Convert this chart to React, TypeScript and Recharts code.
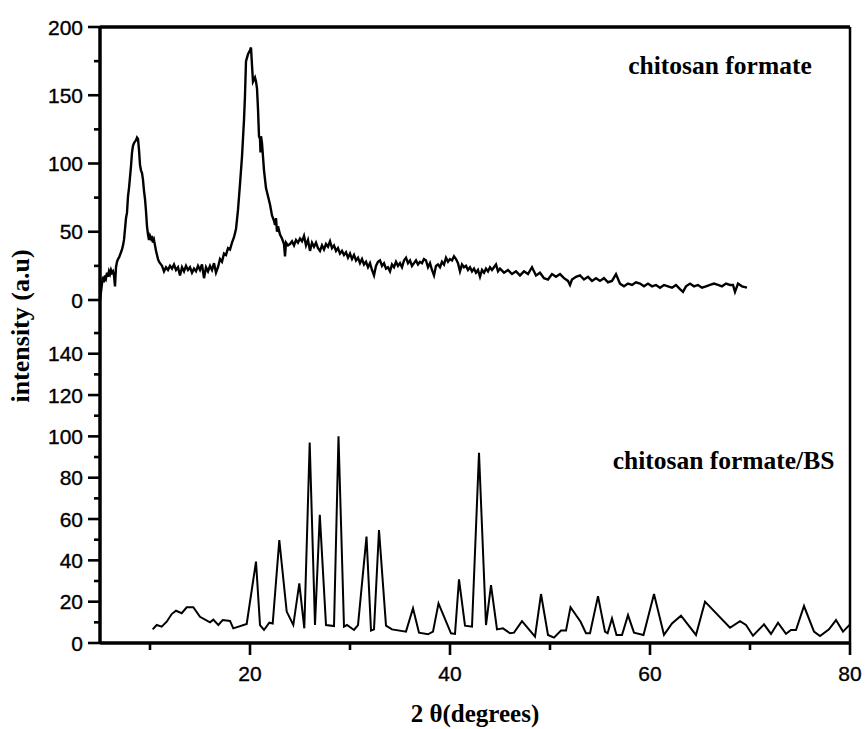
import React from 'react';
import { LineChart, Line, XAxis, YAxis, ReferenceLine, ReferenceDot, Label } from 'recharts';

// 2 theta (degrees) and intensity
const formateX = [
  5.0, 5.1, 5.2, 5.3, 5.4, 5.5, 5.6, 5.7, 5.8, 5.9, 6.0, 6.1, 6.2, 6.3, 6.4, 6.5, 6.6, 6.7, 6.8, 6.9,
  7.0, 7.1, 7.2, 7.3, 7.4, 7.5, 7.6, 7.7, 7.8, 7.9, 8.0, 8.1, 8.2, 8.3, 8.4, 8.5, 8.6, 8.7, 8.8, 8.9,
  9.0, 9.1, 9.2, 9.3, 9.4, 9.5, 9.6, 9.7, 9.8, 9.9, 10.0, 10.1, 10.2, 10.3, 10.4, 10.5, 10.6, 10.7, 10.8, 10.9,
  11.0, 11.2, 11.4, 11.6, 11.8, 12.0, 12.2, 12.4, 12.6, 12.8, 13.0, 13.2, 13.4, 13.6, 13.8, 14.0, 14.2, 14.4, 14.6, 14.8,
  15.0, 15.2, 15.4, 15.6, 15.8, 16.0, 16.2, 16.4, 16.6, 16.8, 17.0, 17.2, 17.4, 17.6, 17.8, 18.0, 18.2, 18.4, 18.6, 18.8,
  19.0, 19.2, 19.4, 19.5, 19.6, 19.8, 20.0, 20.1, 20.2, 20.3, 20.5, 20.6, 20.7, 20.8, 20.9, 21.0, 21.05, 21.1, 21.2, 21.4,
  21.6, 21.8, 22.0, 22.2, 22.4, 22.5, 22.6, 22.7, 22.8, 23.0, 23.2, 23.4, 23.5, 23.6, 23.8, 24.0, 24.2, 24.4, 24.6, 24.8,
  25.0, 25.2, 25.4, 25.6, 25.8, 26.0, 26.2, 26.4, 26.6, 26.8, 27.0, 27.2, 27.4, 27.6, 27.8, 28.0, 28.2, 28.4, 28.6, 28.8,
  29.0, 29.2, 29.4, 29.6, 29.8, 30.0, 30.2, 30.4, 30.6, 30.8, 31.0, 31.2, 31.4, 31.6, 31.8, 32.0, 32.2, 32.4, 32.6, 32.8,
  33.0, 33.2, 33.4, 33.6, 33.8, 34.0, 34.2, 34.4, 34.6, 34.8, 35.0, 35.2, 35.4, 35.6, 35.8, 36.0, 36.2, 36.4, 36.6, 36.8,
  37.0, 37.2, 37.4, 37.6, 37.8, 38.0, 38.2, 38.4, 38.6, 38.8, 39.0, 39.2, 39.4, 39.6, 39.8, 40.0, 40.2, 40.4, 40.6, 40.8,
  41.0, 41.2, 41.4, 41.6, 41.8, 42.0, 42.2, 42.4, 42.6, 42.8, 43.0, 43.2, 43.4, 43.6, 43.8, 44.0, 44.2, 44.6, 44.8, 45.0,
  45.4, 45.8, 46.2, 46.6, 47.0, 47.4, 47.8, 48.2, 48.6, 49.0, 49.4, 49.8, 50.2, 50.6, 51.0, 51.4, 51.8, 52.0, 52.2, 52.6,
  53.0, 53.4, 53.8, 54.2, 54.6, 55.0, 55.4, 55.8, 56.2, 56.6, 57.0, 57.4, 57.8, 58.2, 58.6, 59.0, 59.4, 59.8, 60.2, 60.6,
  61.0, 61.4, 61.8, 62.2, 62.6, 63.0, 63.3, 63.6, 64.0, 64.4, 64.8, 65.2, 65.6, 66.0, 66.4, 66.8, 67.2, 67.6, 68.0, 68.3,
  68.5, 68.8, 69.2, 69.7,
];
const formateY = [
  0, 6, 12, 17, 13, 18, 16, 20, 17, 21, 19, 22, 20, 21, 18, 10, 24, 28, 30, 31,
  33, 35, 37, 40, 44, 52, 60, 64, 76, 82, 90, 98, 108, 113, 115, 116, 117, 119, 118, 110,
  99, 95, 93, 88, 80, 74, 65, 54, 48, 44, 47, 45, 47, 42, 44, 40, 36, 33, 30, 28,
  27, 25, 21, 24, 22, 25, 23, 26, 22, 24, 18, 24, 21, 25, 22, 24, 20, 23, 21, 25,
  22, 26, 16, 24, 21, 25, 22, 27, 20, 24, 30, 28, 34, 33, 38, 37, 42, 46, 52, 66,
  85, 105, 132, 150, 175, 180, 183, 185, 172, 160, 163, 160, 155, 140, 120, 118, 108, 120, 115, 95,
  82, 76, 70, 62, 58, 55, 60, 50, 54, 48, 45, 41, 32, 42, 40, 41, 43, 40, 44, 42,
  45, 43, 47, 40, 44, 36, 42, 39, 42, 38, 36, 40, 37, 41, 39, 43, 38, 40, 36, 38,
  34, 36, 33, 35, 31, 34, 30, 33, 29, 31, 27, 30, 26, 28, 24, 27, 22, 18, 25, 28,
  29, 25, 27, 23, 24, 21, 26, 24, 28, 25, 27, 24, 29, 31, 27, 29, 25, 27, 29, 26,
  28, 27, 30, 29, 24, 27, 22, 18, 25, 26, 24, 28, 26, 31, 28, 30, 29, 32, 30, 27,
  21, 26, 24, 25, 22, 24, 21, 23, 20, 22, 17, 22, 20, 23, 21, 24, 22, 26, 21, 23,
  20, 22, 19, 21, 18, 21, 19, 24, 18, 20, 16, 15, 19, 17, 19, 16, 14, 11, 15, 17,
  18, 15, 17, 14, 16, 14, 16, 13, 14, 19, 12, 10, 12, 11, 13, 12, 10, 12, 10, 11,
  9, 11, 10, 9, 11, 8, 6, 10, 12, 10, 11, 9, 10, 11, 12, 11, 10, 12, 11, 11,
  6, 12, 10, 9,
];

const blendX = [
  10.27, 10.67, 11.17, 11.67, 12.17, 12.6, 13.17, 13.67, 14.33, 15.0, 16.0, 16.33, 16.83, 17.27, 18.0, 18.33, 19.67, 20.6, 21.0, 21.4,
  21.93, 22.27, 22.93, 23.67, 24.33, 24.93, 25.43, 25.97, 26.5, 26.98, 27.6, 28.4, 28.85, 29.4, 29.7, 30.4, 30.8, 31.65, 32.1, 32.4,
  32.9, 33.6, 34.2, 35.6, 36.3, 36.9, 37.8, 38.3, 38.85, 40.1, 40.5, 40.9, 41.5, 42.2, 42.9, 43.6, 44.1, 44.7, 45.3, 46.0,
  46.4, 47.2, 48.5, 49.1, 49.8, 50.4, 51.1, 51.6, 52.05, 53.06, 53.6, 54.0, 54.8, 55.5, 55.76, 56.2, 56.65, 57.2, 57.8, 58.4,
  59.35, 60.4, 61.4, 62.2, 63.1, 64.6, 65.5, 68.0, 69.0, 69.6, 70.3, 71.4, 72.1, 72.8, 73.6, 74.1, 74.6, 75.4, 76.4, 77.0,
  77.9, 78.6, 79.3, 80.0,
];
const blendY = [
  6.6, 8.7, 7.9, 10.3, 14, 15.6, 14.4, 17.3, 17.3, 12.7, 10, 11.3, 8.7, 11.1, 10.7, 7.1, 9.2, 39.4, 8.7, 6.3,
  9.8, 9.4, 49.8, 15.2, 8.7, 28.9, 7.1, 97, 8.7, 62, 8.7, 8.2, 100, 7.9, 8.7, 6.3, 8.7, 51.5, 6, 6.6,
  54.7, 8.4, 6.6, 5.5, 16.8, 5, 4.2, 5.5, 19.2, 4.7, 4.4, 30.8, 8.4, 7.9, 92, 8.7, 28, 6.6, 7.1, 4.7,
  5, 10.6, 3.1, 23.7, 3.9, 2.6, 6, 6, 17.3, 10.3, 4.7, 4.7, 22.7, 5.5, 4.7, 11.9, 3.9, 3.9, 13.5, 5,
  3.9, 23.7, 3.9, 9.5, 13.2, 3.9, 20, 7.4, 10.6, 8.7, 3.5, 9, 4.4, 9.8, 4.4, 6.3, 6.3, 17.9, 5.5, 3.4,
  6.6, 11.1, 5.5, 9,
];

const xTicks = [10, 20, 30, 40, 50, 60, 70, 80];
const topTicks = [0, 25, 50, 75, 100, 125, 150, 175, 200];
const bottomTicks = [0, 10, 20, 30, 40, 50, 60, 70, 80, 90, 100, 110, 120, 130, 140, 150];

const topData = formateX.map((x, i) => ({ x, y: formateY[i] }));
const bottomData = blendX.map((x, i) => ({ x, y: blendY[i] }));

// scanned figure: slightly heavy Arial-like tick numbers
const tickFont = {
  fontFamily: '"Liberation Sans", Arial, sans-serif',
  fontSize: 21,
  fill: '#000',
  stroke: '#000',
  strokeWidth: 0.35,
};
const serifBold = '"Liberation Serif", "Times New Roman", serif';

function YTick(props: any) {
  const { x, y, payload, step } = props;
  const major = payload.value % step === 0;
  return (
    <g>
      <line x1={x - (major ? 12 : 6)} x2={x} y1={y} y2={y} stroke="#000" strokeWidth={2.6} />
      {major && (
        <text x={x - 17} y={y} dy="0.36em" textAnchor="end" {...tickFont}>
          {payload.value}
        </text>
      )}
    </g>
  );
}

function XTick(props: any) {
  const { x, y, payload } = props;
  const major = payload.value % 20 === 0;
  return (
    <g>
      <line x1={x} x2={x} y1={y} y2={y + (major ? 12 : 7)} stroke="#000" strokeWidth={2.6} />
      {major && (
        <text x={x} y={y + 30} dy="0.36em" textAnchor="middle" {...tickFont}>
          {payload.value}
        </text>
      )}
    </g>
  );
}

export default function App() {
  return (
    <div style={{ position: 'absolute', left: 0, top: 0, width: 865, height: 729, background: '#fff' }}>
      <div style={{ position: 'absolute', left: 0, top: 0 }}>
        <LineChart width={865} height={315} data={topData} margin={{ top: 27, right: 15, bottom: 15, left: 40 }}>
          <XAxis type="number" dataKey="x" domain={[5, 80]} allowDataOverflow hide />
          <YAxis
            type="number"
            domain={[0, 200]}
            ticks={topTicks}
            interval={0}
            allowDataOverflow
            width={60}
            tickSize={0}
            tickMargin={0}
            tickLine={false}
            axisLine={false}
            tick={(p: any) => <YTick {...p} step={50} />}
          />
          {/* frame: left axis, top edge, right edge */}
          <ReferenceLine x={5} stroke="#000" strokeWidth={3.5} />
          <ReferenceLine y={200} stroke="#000" strokeWidth={3.5} />
          <ReferenceLine x={80} stroke="#000" strokeWidth={2.5} />
          <ReferenceDot
            x={67}
            y={172}
            r={0}
            stroke="none"
            label={{ value: 'chitosan formate', position: 'center', fontFamily: serifBold, fontWeight: 700, fontSize: 25.5, fill: '#000' }}
          />
          <Line type="linear" dataKey="y" stroke="#000" strokeWidth={2.4} dot={false} isAnimationActive={false} />
        </LineChart>
      </div>
      <div style={{ position: 'absolute', left: 0, top: 300 }}>
        <LineChart width={865} height={429} data={bottomData} margin={{ top: 0, right: 15, bottom: 0, left: 40 }}>
          <XAxis
            type="number"
            dataKey="x"
            domain={[5, 80]}
            ticks={xTicks}
            interval={0}
            allowDataOverflow
            height={86}
            tickSize={0}
            tickMargin={0}
            tickLine={false}
            axisLine={false}
            tick={(p: any) => <XTick {...p} />}
          >
            <Label
              value="2 θ(degrees)"
              position="insideBottom"
              offset={7}
              style={{ fontFamily: serifBold, fontWeight: 700, fontSize: 25, fill: '#000' }}
            />
          </XAxis>
          <YAxis
            type="number"
            domain={[0, 166]}
            ticks={bottomTicks}
            interval={0}
            allowDataOverflow
            width={60}
            tickSize={0}
            tickMargin={0}
            tickLine={false}
            axisLine={false}
            tick={(p: any) => <YTick {...p} step={20} />}
          />
          <ReferenceLine x={5} stroke="#000" strokeWidth={3.5} />
          <ReferenceLine y={0} stroke="#000" strokeWidth={3.5} />
          <ReferenceLine x={80} stroke="#000" strokeWidth={2.5} />
          <ReferenceDot
            x={67.35}
            y={88.6}
            r={0}
            stroke="none"
            label={{ value: 'chitosan formate/BS', position: 'center', fontFamily: serifBold, fontWeight: 700, fontSize: 25.5, fill: '#000' }}
          />
          <Line type="linear" dataKey="y" stroke="#000" strokeWidth={2} dot={false} isAnimationActive={false} />
        </LineChart>
      </div>
      <div
        style={{
          position: 'absolute',
          left: 21,
          top: 326,
          transform: 'translate(-50%, -50%) rotate(-90deg)',
          whiteSpace: 'nowrap',
          fontFamily: serifBold,
          fontWeight: 700,
          fontSize: 26,
          lineHeight: 1,
          color: '#000',
        }}
      >
        intensity (a.u)
      </div>
    </div>
  );
}
